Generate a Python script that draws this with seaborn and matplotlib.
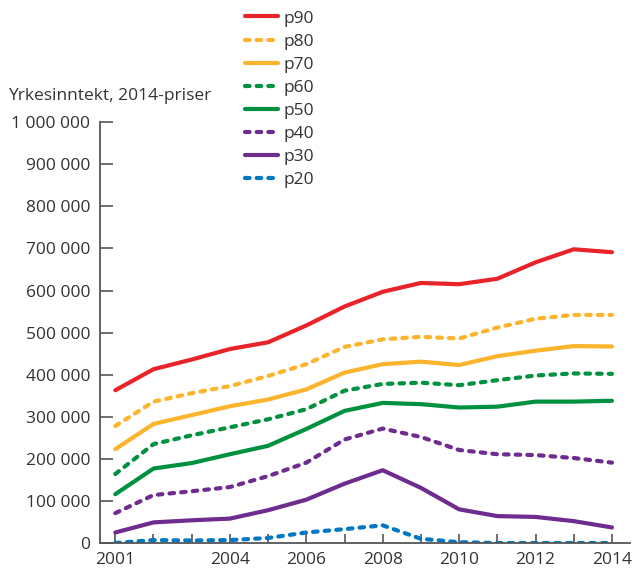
import pandas as pd
import numpy as np
import seaborn as sns
import matplotlib.pyplot as plt

years = list(range(2001, 2015))

p90 = [363, 413, 436, 461, 477, 517, 562, 597, 618, 615, 628, 667, 698, 691]
p80 = [278, 336, 356, 373, 397, 425, 466, 484, 490, 486, 512, 533, 542, 542]
p70 = [223, 283, 304, 325, 341, 365, 405, 425, 431, 423, 444, 457, 468, 467]
p60 = [164, 235, 256, 275, 294, 318, 362, 378, 381, 375, 387, 398, 403, 402]
p50 = [116, 177, 190, 211, 231, 271, 314, 333, 330, 322, 324, 336, 336, 338]
p40 = [71, 114, 123, 133, 159, 191, 246, 272, 252, 221, 211, 209, 202, 191]
p30 = [25, 49, 54, 58, 78, 103, 141, 173, 131, 80, 64, 62, 52, 37]
p20 = [0, 7, 6, 7, 12, 25, 33, 42, 10, 2, 0, 0, 0, 0]

series = {"p90": p90, "p80": p80, "p70": p70, "p60": p60,
          "p50": p50, "p40": p40, "p30": p30, "p20": p20}

colors = {"p90": "#E8232A", "p80": "#FBB42B", "p70": "#FBB42B", "p60": "#00913F",
          "p50": "#00913F", "p40": "#6E2C8F", "p30": "#6E2C8F", "p20": "#0078C1"}
dash = (1.1, 1.7)
dashes = {"p90": "", "p80": dash, "p70": "", "p60": dash,
          "p50": "", "p40": dash, "p30": "", "p20": dash}

rows = []
for name, vals in series.items():
    for y, v in zip(years, vals):
        rows.append({"year": y, "value": v * 1000, "pct": name})
df = pd.DataFrame(rows)

sns.set_style("white")
plt.rcParams["font.family"] = ["Open Sans", "DejaVu Sans"]

fig = plt.figure(figsize=(6.35, 5.71), dpi=100)
ax = fig.add_axes([0.1575, 0.049, 0.8345, 0.737])

order = list(series.keys())
sns.lineplot(data=df, x="year", y="value", hue="pct", style="pct",
             hue_order=order, style_order=order, palette=colors,
             dashes=dashes, linewidth=3, ax=ax, legend=True)

for ln in ax.lines:
    ln.set_dash_capstyle("round")
    ln.set_solid_capstyle("round")

handles, labels = ax.get_legend_handles_labels()
ax.get_legend().remove()
for h in handles:
    h.set_dash_capstyle("round")
    h.set_solid_capstyle("round")
    h.set_linewidth(3)
fig.legend(handles, labels, loc="upper left", bbox_to_anchor=(0.370, 1.0),
           frameon=False, fontsize=12.5, handlelength=1.9, labelspacing=0.40,
           handletextpad=0.3, labelcolor="#333333", borderaxespad=0.2)

ax.set_xlim(2000.6, 2014.47)
ax.set_ylim(0, 1000000)
ax.set_xticks(years)
show = {2001, 2004, 2006, 2008, 2010, 2012, 2014}
ax.set_xticklabels([str(y) if y in show else "" for y in years])
yt = np.arange(0, 1000001, 100000)
ax.set_yticks(yt)
ax.set_yticklabels(["0" if v == 0 else f"{v:,}".replace(",", " ") for v in yt])
ax.set_xlabel("")
ax.set_ylabel("")

sns.despine(ax=ax)
for s in ["left", "bottom"]:
    ax.spines[s].set_color("#555555")
    ax.spines[s].set_linewidth(1.3)
ax.tick_params(axis="y", direction="in", length=9, width=1.2, color="#555555",
               pad=7, labelsize=12.5, labelcolor="#333333", left=True)
ax.tick_params(axis="x", direction="in", length=6.5, width=1.2, color="#555555",
               pad=6.5, labelsize=12.5, labelcolor="#333333", bottom=True)

fig.text(0.012, 1 - 96 / 571, "Yrkesinntekt, 2014-priser", fontsize=12.5,
         color="#333333", va="center", ha="left")

fig.savefig("out.png", dpi=100)
